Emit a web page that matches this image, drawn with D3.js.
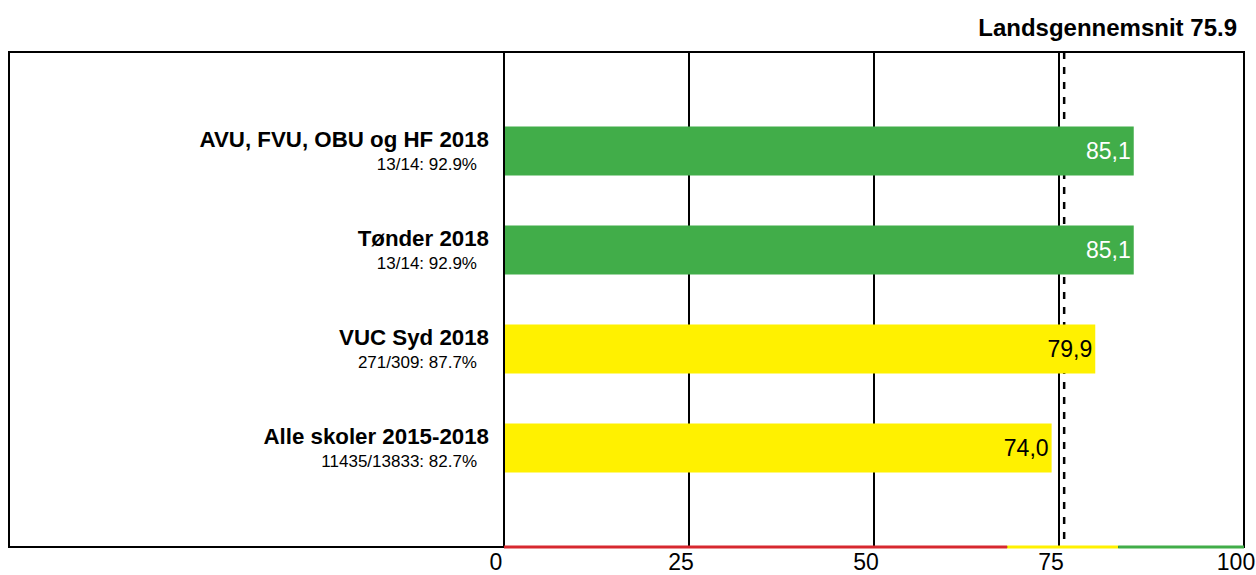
<!DOCTYPE html>
<html>
<head>
<meta charset="utf-8">
<script src="https://cdn.jsdelivr.net/npm/d3@7"></script>
<style>
  body { margin: 0; background: #fff; }
  svg { font-family: "Liberation Sans", Arial, sans-serif; }
  .cat { font-weight: bold; font-size: 22.3px; }
  .sub { font-size: 17px; }
  .val { font-size: 23px; }
  .tick-label { font-size: 23px; }
  .title { font-weight: bold; font-size: 24px; }
</style>
</head>
<body>
<div id="chart"></div>
<script>
// chart data
var categories = ["AVU, FVU, OBU og HF 2018", "Tønder 2018", "VUC Syd 2018", "Alle skoler 2015-2018"];
var subLabels = ["13/14: 92.9%", "13/14: 92.9%", "271/309: 87.7%", "11435/13833: 82.7%"];
var values = [85.1, 85.1, 79.9, 74.0];
var nationalAvg = 75.9;
var tickValues = [0, 25, 50, 75, 100];
var thresholds = [68, 83];   // red below, yellow between, green above
var bandColors = ["#D7282F", "#FFF100", "#41AD49"];

var w = 1256, h = 575;
var frame = {left: 9, top: 52, right: 1244, bottom: 547},
    plotLeft = 504,
    barHeight = 49;

var svg = d3.select("#chart")
    .append("svg")
    .attr("width", w)
    .attr("height", h);

// scales
var xScale = d3.scaleLinear()
    .domain([0, 100])
    .range([plotLeft, frame.right]);
var yScale = d3.scalePoint()
    .domain(categories)
    .range([frame.top, frame.bottom])
    .padding(1);
var colorScale = d3.scaleThreshold()
    .domain(thresholds)
    .range(bandColors);

var fmt = function(v) { return d3.format(".1f")(v).replace(".", ","); };

// outer frame
svg.append("rect")
    .attr("x", frame.left)
    .attr("y", frame.top)
    .attr("width", frame.right - frame.left)
    .attr("height", frame.bottom - frame.top)
    .attr("fill", "none")
    .attr("stroke", "#000")
    .attr("stroke-width", 2);

// vertical grid lines
svg.selectAll(".grid")
    .data(tickValues)
    .enter()
    .append("line")
    .attr("class", "grid")
    .attr("x1", function(d){ return xScale(d); })
    .attr("x2", function(d){ return xScale(d); })
    .attr("y1", frame.top)
    .attr("y2", frame.bottom)
    .attr("stroke", "#000")
    .attr("stroke-width", 2);

// national average (dashed)
svg.append("line")
    .attr("x1", xScale(nationalAvg) - 1.5)
    .attr("x2", xScale(nationalAvg) - 1.5)
    .attr("y1", frame.top)
    .attr("y2", frame.bottom)
    .attr("stroke", "#000")
    .attr("stroke-width", 2.5)
    .attr("stroke-dasharray", "7,8");

// bars
svg.selectAll(".bar")
    .data(values)
    .enter()
    .append("rect")
    .attr("class", "bar")
    .attr("x", xScale(0) + 1)
    .attr("y", function(d, i){ return yScale(categories[i]) - barHeight / 2; })
    .attr("width", function(d){ return xScale(d) - xScale(0) - 1; })
    .attr("height", barHeight)
    .attr("fill", function(d){ return colorScale(d); });

// value labels inside bars
svg.selectAll(".val")
    .data(values)
    .enter()
    .append("text")
    .attr("class", "val")
    .attr("x", function(d){ return xScale(d) - 3; })
    .attr("y", function(d, i){ return yScale(categories[i]) + 8; })
    .attr("text-anchor", "end")
    .attr("fill", function(d){ return colorScale(d) == bandColors[2] ? "#fff" : "#000"; })
    .text(fmt);

// category labels
svg.selectAll(".cat")
    .data(categories)
    .enter()
    .append("text")
    .attr("class", "cat")
    .attr("x", 489)
    .attr("y", function(d){ return yScale(d) - 4; })
    .attr("text-anchor", "end")
    .text(function(d){ return d; });
svg.selectAll(".sub")
    .data(subLabels)
    .enter()
    .append("text")
    .attr("class", "sub")
    .attr("x", 477)
    .attr("y", function(d, i){ return yScale(categories[i]) + 19; })
    .attr("text-anchor", "end")
    .text(function(d){ return d; });

// coloured band along the bottom
var bands = [0].concat(thresholds).concat([100]);
svg.selectAll(".band")
    .data(bandColors)
    .enter()
    .append("line")
    .attr("class", "band")
    .attr("x1", function(d, i){ return xScale(bands[i]); })
    .attr("x2", function(d, i){ return xScale(bands[i + 1]); })
    .attr("y1", frame.bottom)
    .attr("y2", frame.bottom)
    .attr("stroke", function(d){ return d; })
    .attr("stroke-width", 3);

// x axis tick labels
svg.selectAll(".tick-label")
    .data(tickValues)
    .enter()
    .append("text")
    .attr("class", "tick-label")
    .attr("x", function(d){ return xScale(d) - 8; })
    .attr("y", 570)
    .attr("text-anchor", "middle")
    .text(function(d){ return d; });

// title
svg.append("text")
    .attr("class", "title")
    .attr("x", 1237)
    .attr("y", 36)
    .attr("text-anchor", "end")
    .text("Landsgennemsnit " + nationalAvg.toFixed(1));
</script>
</body>
</html>
